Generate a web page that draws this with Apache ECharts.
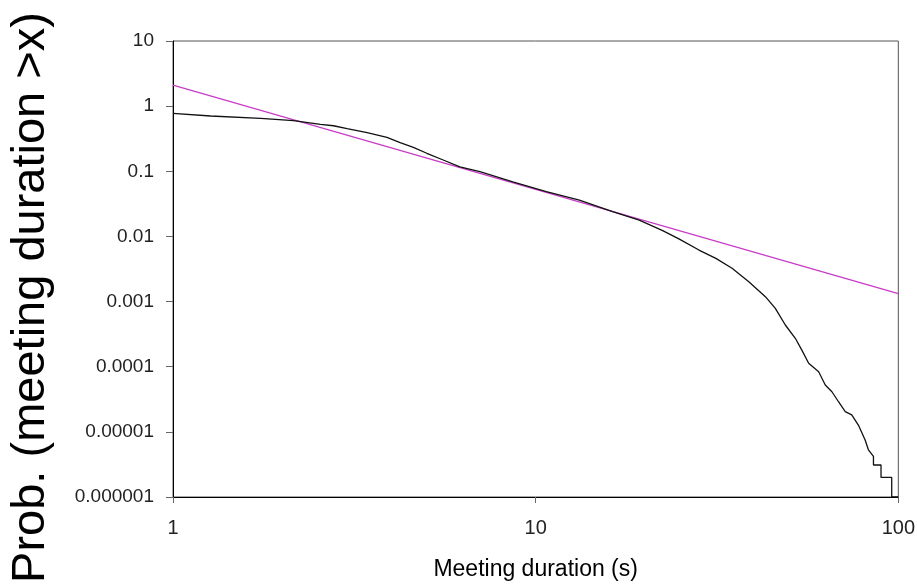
<!DOCTYPE html>
<html>
<head>
<meta charset="utf-8">
<script src="https://cdn.jsdelivr.net/npm/echarts@6/dist/echarts.min.js"></script>
<style>
  html, body { margin: 0; padding: 0; background: #fff; }
  #chart { width: 918px; height: 587px; }
</style>
</head>
<body>
<div id="chart"></div>
<script>
// meeting duration (s) and empirical P(duration > x)
var durations = [1, 1.27, 1.745, 2.15, 2.55, 2.77, 3.02, 3.43, 3.89, 4.23, 4.6, 5.01, 5.56, 6.18,
  7.02, 8.65, 10.7, 13.2, 16.3, 19.3, 22.4, 24.9, 28.2, 31.4, 34.8, 38.7, 43.0, 45.8, 48.8,
  52.0, 54.2, 56.6, 60.3, 62.9, 65.6, 68.4, 71.4, 74.4, 77.6, 81.0, 82.7, 85.4,
  85.4, 89.6, 89.6, 95.9, 95.9, 100];
var ccdf = [0.776, 0.706, 0.65, 0.598, 0.526, 0.5, 0.451, 0.391, 0.332, 0.275, 0.233, 0.189, 0.149, 0.117,
  0.0986, 0.069, 0.0487, 0.036, 0.024, 0.0178, 0.01225, 0.0091, 0.00618, 0.00461, 0.00324, 0.00202,
  0.00119, 0.000787, 0.000437, 0.000273, 0.00018, 0.000113, 0.0000838, 0.0000524, 0.0000413,
  0.000029, 0.0000204, 0.0000182, 0.0000127, 0.0000075, 0.0000053, 0.0000042,
  0.0000031, 0.0000031, 0.000002, 0.000002, 0.000001, 0.000001];

// power-law fit (straight line in log-log), end points
var fitX = [1, 100];
var fitY = [2.1, 0.00132];

var xTickLabels = ["1", "10", "100"];
var yTickLabels = ["0.000001", "0.00001", "0.0001", "0.001", "0.01", "0.1", "1", "10"];

function pairs(xs, ys) {
  return xs.map(function (x, i) { return [x, ys[i]]; });
}

var chart = echarts.init(document.getElementById("chart"));
var font = "Liberation Sans, Arial, sans-serif";

chart.setOption({
  animation: false,
  backgroundColor: "#fff",
  grid: {
    left: 172, right: 18, top: 41, bottom: 90,
    show: true, borderColor: "#555", borderWidth: 1,
    containLabel: false
  },
  xAxis: {
    type: "log", logBase: 10, min: 1, max: 100,
    name: "Meeting duration (s)",
    nameLocation: "middle", nameGap: 61,
    nameTextStyle: { fontFamily: font, fontSize: 23, color: "#000" },
    axisLine: { show: true, lineStyle: { color: "#000", width: 1 } },
    axisTick: { show: true, length: 6, lineStyle: { color: "#666" } },
    minorTick: { show: false },
    splitLine: { show: false },
    axisLabel: {
      fontFamily: font, fontSize: 20, color: "#222", margin: 21,
      showMinLabel: true, showMaxLabel: true,
      formatter: function (v) {
        return xTickLabels[Math.round(Math.log10(v))];
      }
    }
  },
  yAxis: {
    type: "log", logBase: 10, min: 0.000001, max: 10,
    name: "Prob. (meeting duration >x)",
    nameLocation: "middle", nameGap: 118, nameRotate: 90,
    nameTextStyle: { fontFamily: font, fontSize: 47, color: "#000", padding: [0, 57, 0, 0] },
    axisLine: { show: true, lineStyle: { color: "#000", width: 1 } },
    axisTick: { show: true, length: 7, lineStyle: { color: "#666" } },
    minorTick: { show: false },
    splitLine: { show: false },
    axisLabel: {
      fontFamily: font, fontSize: 19, color: "#222", margin: 19,
      showMinLabel: true, showMaxLabel: true,
      formatter: function (v) {
        return yTickLabels[Math.round(Math.log10(v)) + 6];
      }
    }
  },
  series: [
    {
      name: "empirical",
      type: "line",
      data: pairs(durations, ccdf),
      showSymbol: false,
      lineStyle: { color: "#111", width: 1.3 },
      z: 3
    },
    {
      name: "fit",
      type: "line",
      data: pairs(fitX, fitY),
      showSymbol: false,
      lineStyle: { color: "#c83cc8", width: 1.3 },
      z: 2
    }
  ]
});
</script>
</body>
</html>
